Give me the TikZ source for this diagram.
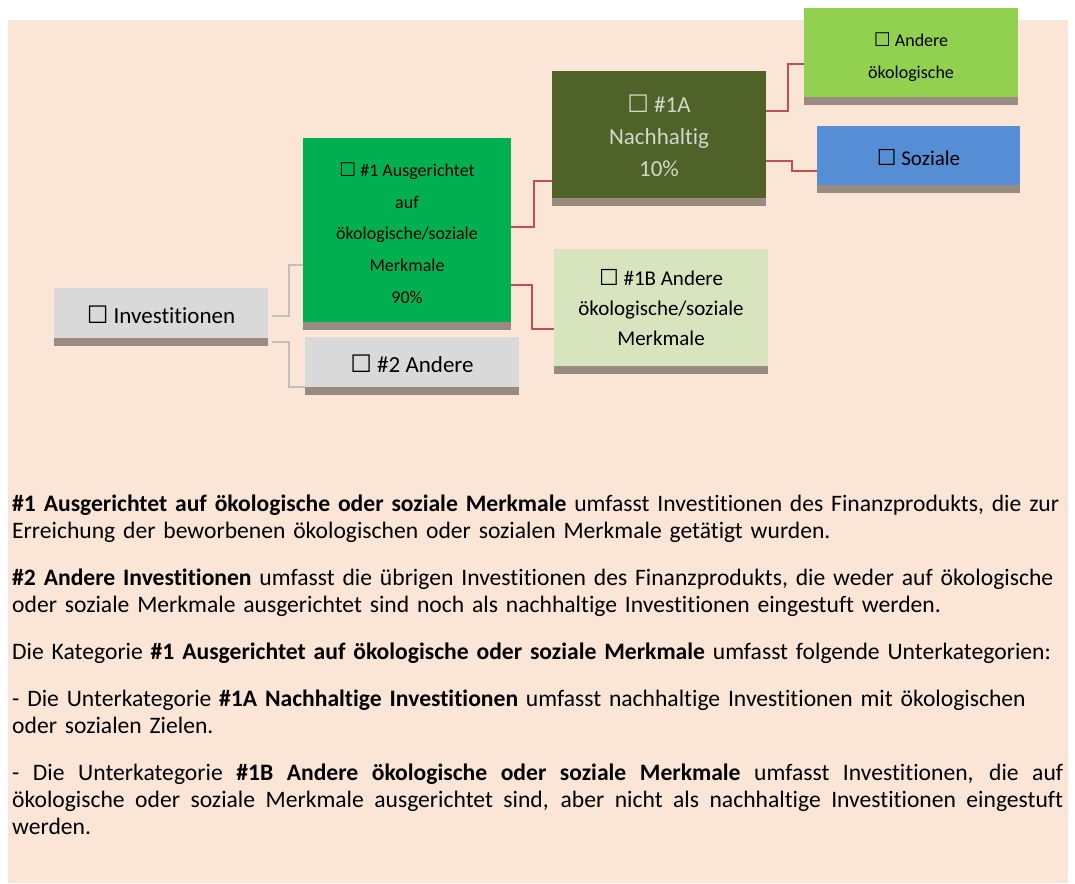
\documentclass[tikz,border=0pt]{standalone}
\usepackage{fontspec}
\usepackage{graphicx}
\setmainfont{Carlito}[Ligatures=NoCommon]
\newfontfamily\symfont{DejaVu Sans}
\usetikzlibrary{positioning}

\definecolor{peach}{HTML}{FBE5D6}
\definecolor{boxgray}{HTML}{D9D9D9}
\definecolor{band}{HTML}{9A8B80}
\definecolor{green1}{HTML}{00B050}
\definecolor{olive}{HTML}{4F6228}
\definecolor{lime}{HTML}{92D050}
\definecolor{sky}{HTML}{558ED5}
\definecolor{sage}{HTML}{D7E4BD}
\definecolor{redline}{HTML}{C0504D}
\definecolor{grayline}{HTML}{BFBFBF}
\definecolor{paletext}{HTML}{D3D7CC}

\newcommand{\cb}{{\symfont\scalebox{1.05}{☐}}}

\begin{document}
\begin{tikzpicture}[
  x=1pt, y=-1pt,
  box/.style={minimum width=214pt, inner sep=0pt, align=center, text=black},
  gline/.style={draw=grayline, line width=2pt},
  rline/.style={draw=redline, line width=2pt},
  para/.style={anchor=base west, inner sep=0pt, font=\fontsize{23.6}{27}\selectfont}
]
  \useasboundingbox (0,0) rectangle (1075,883);
  \fill[white] (0,0) rectangle (1075,883);
  \fill[peach] (8,20) rectangle (1068,883);

  % diagram
  \node[box, fill=boxgray, minimum height=50pt, text height=22pt, font=\fontsize{23}{28}\selectfont] (inv) at (161,313) {\cb\ Investitionen};
  \node[box, fill=boxgray, minimum height=50pt, text height=22pt, font=\fontsize{23}{28}\selectfont] (oth) at (412,362) {\cb\ \#2 Andere};
  \node[box, fill=green1, minimum width=208pt, minimum height=184pt, text height=147pt, font=\fontsize{18}{31.75}\selectfont] (one) at (407,230) {\cb\ \#1 Ausgerichtet\\auf\\ökologische/soziale\\Merkmale\\90\%};
  \node[box, fill=olive, text=paletext, minimum height=127pt, text height=85pt, font=\fontsize{23}{32}\selectfont] (oneA) at (659,134.5) {\cb\ \#1A\\Nachhaltig\\10\%};
  \node[box, fill=sage, minimum height=117pt, text height=77pt, font=\fontsize{21}{30}\selectfont] (oneB) at (661,307.5) {\cb\ \#1B Andere\\ökologische/soziale\\Merkmale};
  \node[box, fill=lime, minimum height=89pt, text height=56pt, font=\fontsize{18}{32}\selectfont] (envo) at (911,52.5) {\cb\ Andere\\ökologische};
  \node[box, fill=sky, minimum width=203pt, minimum height=59pt, text height=21pt, font=\fontsize{21}{26}\selectfont] (soc) at (918.5,155.5) {\cb\ Soziale};
  \foreach \n in {inv,oth,one,oneA,oneB,envo,soc}
    \fill[band] (\n.south west) rectangle ([yshift=-8pt]\n.south east);

  \draw[gline] ([xshift=4pt,yshift=-3pt]inv.east) -| ([xshift=-14pt,yshift=-35pt]one.west) -- ([yshift=-35pt]one.west);
  \draw[gline] ([xshift=4pt,yshift=-29pt]inv.east) -| ([xshift=-16pt,yshift=-25pt]oth.west) -- ([yshift=-25pt]oth.west);
  \draw[rline] ([yshift=3pt]one.east) -| ([xshift=-18pt,yshift=-46.5pt]oneA.west) -- ([yshift=-46.5pt]oneA.west);
  \draw[rline] ([yshift=-55pt]one.east) -| ([xshift=-22pt,yshift=-21.5pt]oneB.west) -- ([yshift=-21.5pt]oneB.west);
  \draw[rline] ([yshift=23.5pt]oneA.east) -| ([xshift=-16pt,yshift=-11.5pt]envo.west) -- ([yshift=-11.5pt]envo.west);
  \draw[rline] ([yshift=-26.5pt]oneA.east) -| ([xshift=-25pt,yshift=-15.5pt]soc.west) -- ([yshift=-15.5pt]soc.west);

  % explanations
  \node[para, text width=1060pt, align=left] (p1) at (12,511) {\textbf{\#1 Ausgerichtet auf ökologische oder soziale Merkmale} umfasst Investitionen des Finanzprodukts, die zur\\Erreichung der beworbenen ökologischen oder sozialen Merkmale getätigt wurden.};
  \node[para, text width=1060pt, align=left] (p2) at (12,585) {\textbf{\#2 Andere Investitionen} umfasst die übrigen Investitionen des Finanzprodukts, die weder auf ökologische\\oder soziale Merkmale ausgerichtet sind noch als nachhaltige Investitionen eingestuft werden.};
  \node[para, text width=1060pt, align=left] (p3) at (12,659) {Die Kategorie \textbf{\#1 Ausgerichtet auf ökologische oder soziale Merkmale} umfasst folgende Unterkategorien:};
  \node[para, text width=1060pt, align=left] (p4) at (12,706) {- Die Unterkategorie \textbf{\#1A Nachhaltige Investitionen} umfasst nachhaltige Investitionen mit ökologischen\\oder sozialen Zielen.};
  \node[para, text width=1051pt, align=justify] (p5) at (12,780) {- Die Unterkategorie \textbf{\#1B Andere ökologische oder soziale Merkmale} umfasst Investitionen, die auf\linebreak ökologische oder soziale Merkmale ausgerichtet sind, aber nicht als nachhaltige Investitionen eingestuft\linebreak werden.};
\end{tikzpicture}
\end{document}
